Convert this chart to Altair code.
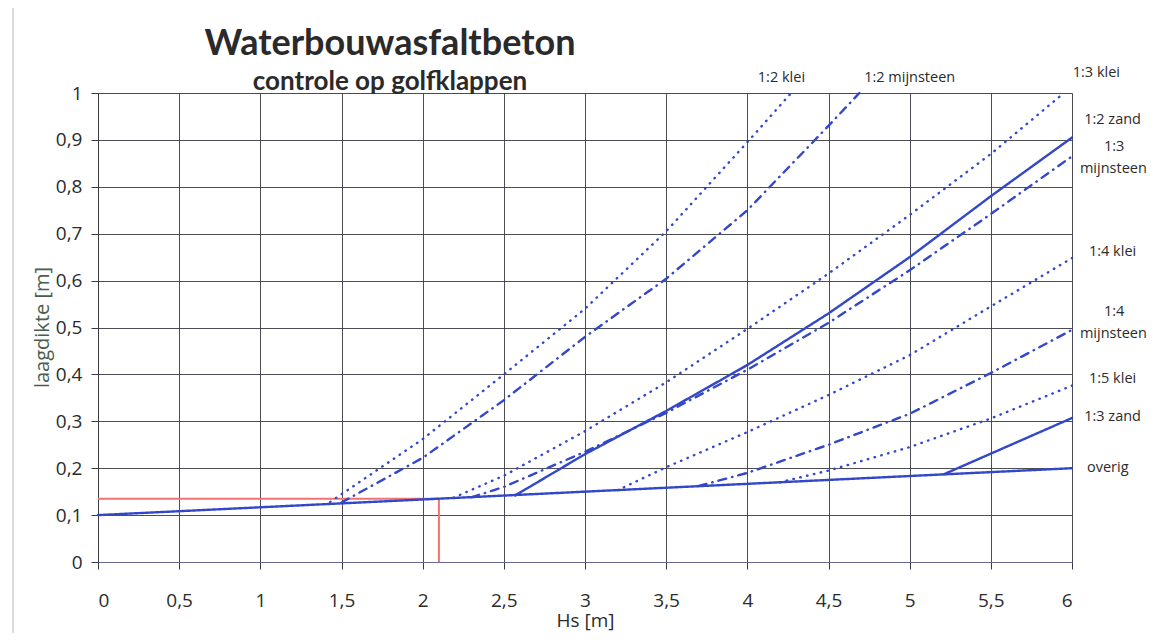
import altair as alt
import pandas as pd

# ---------------- data ----------------
overig_x = [0.0, 6.0]
overig_y = [0.10, 0.20]

zand13_x = [5.21, 6.0]
zand13_y = [0.187, 0.307]

zand12_x = [2.57, 3.0, 3.5, 4.0, 4.5, 5.0, 5.5, 6.0]
zand12_y = [0.142, 0.23, 0.322, 0.42, 0.53, 0.65, 0.78, 0.905]

mijn13_x = [2.3, 2.5, 3.0, 3.5, 4.0, 4.5, 5.0, 5.5, 6.0]
mijn13_y = [0.138, 0.16, 0.235, 0.318, 0.41, 0.51, 0.622, 0.742, 0.865]

mijn12_x = [1.5, 2.0, 2.5, 3.0, 3.5, 4.0, 4.5, 4.69]
mijn12_y = [0.127, 0.222, 0.345, 0.48, 0.604, 0.75, 0.93, 1.0]

klei12_x = [1.43, 2.0, 2.5, 3.0, 3.5, 4.0, 4.27]
klei12_y = [0.128, 0.262, 0.40, 0.54, 0.705, 0.895, 1.0]

klei13_x = [2.19, 2.5, 3.0, 3.5, 4.0, 4.5, 5.0, 5.5, 5.95]
klei13_y = [0.137, 0.184, 0.279, 0.383, 0.497, 0.615, 0.74, 0.87, 1.0]

klei14_x = [3.2, 3.5, 4.0, 4.5, 5.0, 5.5, 6.0]
klei14_y = [0.153, 0.202, 0.277, 0.356, 0.441, 0.545, 0.648]

mijn14_x = [3.7, 4.0, 4.5, 5.0, 5.5, 6.0]
mijn14_y = [0.162, 0.19, 0.25, 0.316, 0.403, 0.495]

klei15_x = [4.2, 4.5, 5.0, 5.5, 6.0]
klei15_y = [0.17, 0.195, 0.245, 0.306, 0.376]

# red reading lines (Hs = 2,1 m -> laagdikte 0,135 m)
red_x = [0.0, 2.1]
red_y = [0.135, 0.135]
red_vx = [2.1, 2.1]
red_vy = [0.0, 0.135]

x_ticks = [0, 0.5, 1, 1.5, 2, 2.5, 3, 3.5, 4, 4.5, 5, 5.5, 6]
y_ticks = [0, 0.1, 0.2, 0.3, 0.4, 0.5, 0.6, 0.7, 0.8, 0.9, 1]

label_text = ["1:2 klei", "1:2 mijnsteen", "1:3 klei", "1:2 zand", "1:3", "mijnsteen",
              "1:4 klei", "1:4", "mijnsteen", "1:5 klei", "1:3 zand", "overig"]
label_x = [4.21, 5.0, 6.15, 6.25, 6.26, 6.255, 6.25, 6.26, 6.255, 6.25, 6.25, 6.22]
label_y = [1.032, 1.032, 1.042, 0.942, 0.884, 0.838, 0.662, 0.534, 0.486, 0.39, 0.31, 0.2]

# ---------------- build tables ----------------
series = [
    ("overig", "solid", overig_x, overig_y),
    ("1:3 zand", "solid", zand13_x, zand13_y),
    ("1:2 zand", "solid", zand12_x, zand12_y),
    ("1:3 mijnsteen", "dashdot", mijn13_x, mijn13_y),
    ("1:2 mijnsteen", "dashdot", mijn12_x, mijn12_y),
    ("1:4 mijnsteen", "dashdot", mijn14_x, mijn14_y),
    ("1:2 klei", "dotted", klei12_x, klei12_y),
    ("1:3 klei", "dotted", klei13_x, klei13_y),
    ("1:4 klei", "dotted", klei14_x, klei14_y),
    ("1:5 klei", "dotted", klei15_x, klei15_y),
]
rows = []
for name, style, xs, ys in series:
    for xv, yv in zip(xs, ys):
        rows.append({"serie": name, "stijl": style, "Hs": xv, "d": yv})
df = pd.DataFrame(rows)

red_df = pd.DataFrame({
    "x": [red_x[0], red_vx[0]], "x2": [red_x[1], red_vx[1]],
    "y": [red_y[0], red_vy[0]], "y2": [red_y[1], red_vy[1]],
})

lab_df = pd.DataFrame({"t": label_text, "x": label_x, "y": label_y})

FONT = "Open Sans"
TFONT = "Lato"
BLUE = "#3347c9"
GRID = "#3a3a44"
TXT = "#2b2b2b"

x_scale = alt.Scale(domain=[0, 6], nice=False, zero=False)
y_scale = alt.Scale(domain=[0, 1], nice=False, zero=False)

x_axis = alt.Axis(
    values=x_ticks, labelExpr="replace(toString(datum.value), '.', ',')",
    title="Hs [m]", grid=True, gridColor=GRID, gridWidth=1, gridOpacity=0.9,
    tickColor=GRID, tickSize=7, domainColor="#6a6a90",
    labelFontSize=19, labelPadding=22, labelColor=TXT, labelFont=FONT,
    titleFontSize=19, titleFontWeight="normal", titleFont=FONT, titleColor=TXT,
    titlePadding=1,
)
y_axis = alt.Axis(
    values=y_ticks, labelExpr="replace(toString(datum.value), '.', ',')",
    title="laagdikte [m]", grid=True, gridColor=GRID, gridWidth=1, gridOpacity=0.9,
    tickColor=GRID, tickSize=7, domainColor=GRID,
    labelFontSize=19, labelPadding=9, labelColor=TXT, labelFont=FONT,
    titleFontSize=20, titleFontWeight="normal", titleFont=FONT, titleColor="#4a5e50",
    titleAngle=270, titleX=-56, titleY=234, titleAlign="center", titleBaseline="middle",
)

red = alt.Chart(red_df).mark_rule(color="#f07272", strokeWidth=2).encode(
    x=alt.X("x:Q", scale=x_scale, axis=x_axis),
    x2="x2:Q",
    y=alt.Y("y:Q", scale=y_scale, axis=y_axis),
    y2="y2:Q",
)

lines = alt.Chart(df).mark_line(strokeCap="round", strokeJoin="round").encode(
    x=alt.X("Hs:Q", scale=x_scale, axis=x_axis),
    y=alt.Y("d:Q", scale=y_scale, axis=y_axis),
    detail="serie:N",
    order="Hs:Q",
    strokeDash=alt.StrokeDash(
        "stijl:N",
        scale=alt.Scale(domain=["solid", "dotted", "dashdot"],
                        range=[[1, 0], [0.5, 6.5], [8, 6, 0.5, 6]]),
        legend=None,
    ),
    color=alt.value(BLUE),
    strokeWidth=alt.value(2.4),
)

labels = alt.Chart(lab_df).mark_text(
    font=FONT, fontSize=14.5, align="center", baseline="middle", color=TXT
).encode(
    x=alt.X("x:Q", scale=x_scale),
    y=alt.Y("y:Q", scale=y_scale),
    text="t:N",
)

title = alt.Chart(pd.DataFrame({"t": ["Waterbouwasfaltbeton"]})).mark_text(
    font=TFONT, fontSize=36, fontWeight="bold", align="center", baseline="alphabetic", color="#2a2a2a"
).encode(x=alt.value(292), y=alt.value(-38), text="t:N")

subtitle = alt.Chart(pd.DataFrame({"t": ["controle op golfklappen"]})).mark_text(
    font=TFONT, fontSize=26, fontWeight="bold", align="center", baseline="alphabetic", color="#2a2a2a"
).encode(x=alt.value(292), y=alt.value(-3), text="t:N")

frame = alt.Chart(pd.DataFrame({"a": [0]})).mark_rule(color="#b8b8b8", strokeWidth=1).encode(
    x=alt.value(-85), y=alt.value(-93), y2=alt.value(540)
)

chart = alt.layer(frame, red, lines, labels, title, subtitle).properties(
    width=974, height=469,
    autosize=alt.AutoSizeParams(type="none"),
    padding={"left": 90, "top": 85, "right": 78, "bottom": 72},
).configure_view(stroke=None).configure(background="white")

chart.save("out.html", embed_options={"renderer": "svg", "actions": False})
